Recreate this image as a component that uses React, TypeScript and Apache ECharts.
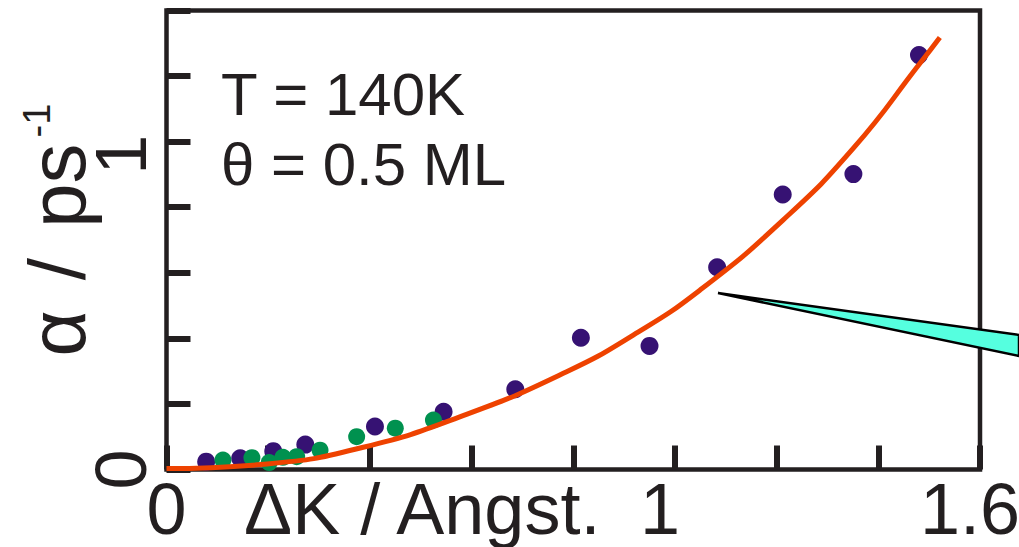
import React, { useEffect, useRef } from "react";
import * as echarts from "echarts";

// ---- data ----
const purplePoints: [number, number][] = [
  [0.078, 0.024], [0.145, 0.034], [0.210, 0.056], [0.273, 0.076],
  [0.410, 0.131], [0.545, 0.176], [0.686, 0.245], [0.815, 0.402],
  [0.950, 0.377], [1.083, 0.617], [1.212, 0.839], [1.351, 0.901],
  [1.480, 1.264],
];
const greenPoints: [number, number][] = [
  [0.111, 0.029], [0.168, 0.036], [0.202, 0.021], [0.229, 0.037],
  [0.256, 0.039], [0.302, 0.059], [0.374, 0.100], [0.450, 0.126],
  [0.525, 0.151],
];
const fitCurve: [number, number][] = [
  [0.0, 0.003], [0.198, 0.017], [0.387, 0.068], [0.590, 0.168],
  [0.787, 0.298], [0.918, 0.410], [1.049, 0.547], [1.212, 0.760],
  [1.351, 0.980], [1.482, 1.239], [1.521, 1.318],
];
const xTickLabels = ["0", "1", "1.6"];
const yTickLabels = ["0", "1"];
const annotations = ["T = 140K", "θ = 0.5 ML"];

const FONT = "'Liberation Sans', Arial, Helvetica, sans-serif";
const INK = "#231f20";
const PURPLE = "#361273";
const GREEN = "#00914f";
const ORANGE = "#ee4200";
const CYAN = "#55ffdf";

const fmtVal = (v: number) => String(Math.round(v * 100) / 100);

export default function App() {
  const ref = useRef<HTMLDivElement>(null);
  useEffect(() => {
    if (!ref.current) return;
    const chart = echarts.init(ref.current, null, { renderer: "svg" });
    const labelBase = { fontSize: 72, fontFamily: FONT, color: INK };
    const xRich: Record<string, any> = {
      base: { ...labelBase },
      one: { ...labelBase, padding: [0, 30, 0, 0] },
      end: { ...labelBase, padding: [0, 20, 0, 0] },
    };
    const xStyleOf: Record<string, string> = { "0": "base", "1": "one", "1.6": "end" };
    const yRich: Record<string, any> = {
      base: { ...labelBase },
      one: { ...labelBase, padding: [0, 26, 0, 0] },
    };
    const yStyleOf: Record<string, string> = { "0": "base", "1": "one" };
    const nameFont = { fontSize: 80, fontFamily: FONT, color: INK };
    chart.setOption({
      animation: false,
      backgroundColor: "#ffffff",
      grid: {
        left: 166.5,
        right: 39,
        top: 10.5,
        bottom: 77.5,
        containLabel: false,
        outerBoundsMode: "none",
        show: true,
        borderColor: INK,
        borderWidth: 4.5,
        backgroundColor: "transparent",
      },
      xAxis: {
        type: "value",
        min: 0,
        max: 1.6,
        interval: 0.2,
        axisLine: { show: false },
        splitLine: { show: false },
        axisTick: { show: true, inside: true, length: 24, lineStyle: { color: INK, width: 6 } },
        axisLabel: {
          margin: 3,
          ...labelBase,
          showMinLabel: true,
          showMaxLabel: true,
          hideOverlap: false,
          formatter: (v: number) => {
            const s = fmtVal(v);
            return xTickLabels.includes(s) ? `{${xStyleOf[s]}|${s}}` : "";
          },
          rich: xRich,
        },
        name: "ΔK / Angst.",
        nameLocation: "middle",
        nameGap: 3,
        nameMoveOverlap: false,
        nameTextStyle: {
          ...labelBase,
          padding: [0, 302, 0, 0],
        },
      },
      yAxis: {
        type: "value",
        min: 0,
        max: 1.4,
        interval: 0.2,
        axisLine: { show: false },
        splitLine: { show: false },
        axisTick: { show: true, inside: true, length: 24, lineStyle: { color: INK, width: 6 } },
        axisLabel: {
          margin: 10,
          rotate: 90,
          ...labelBase,
          showMinLabel: true,
          showMaxLabel: true,
          hideOverlap: false,
          formatter: (v: number) => {
            const s = fmtVal(v);
            return yTickLabels.includes(s) ? `{${yStyleOf[s]}|${s}}` : "";
          },
          rich: yRich,
        },
        name: "{a|α}{b|/}{a|ps}{s|-1}",
        nameLocation: "middle",
        nameRotate: 90,
        nameGap: 69,
        nameMoveOverlap: false,
        nameTextStyle: {
          padding: [0, 0, 0, 20],
          rich: {
            a: { ...nameFont },
            b: { ...nameFont, padding: [0, 30, 0, 30] },
            s: { fontSize: 38, lineHeight: 28, fontFamily: FONT, color: INK, verticalAlign: "top", padding: [0, 0, 0, 6] },
          },
        },
      },
      graphic: [
        {
          type: "text",
          x: 221,
          y: 94.5,
          z: 50,
          style: {
            text: annotations[0],
            font: `60px ${FONT}`,
            fill: INK,
            textAlign: "left",
            textVerticalAlign: "middle",
          },
        },
        {
          type: "text",
          x: 221,
          y: 164,
          z: 50,
          style: {
            text: annotations[1],
            font: `60px ${FONT}`,
            fill: INK,
            textAlign: "left",
            textVerticalAlign: "middle",
          },
        },
        {
          type: "polygon",
          z: 100,
          shape: { points: [[718, 293], [1019, 335], [1019, 356]] },
          style: { fill: CYAN, stroke: "#000000", lineWidth: 2.5, lineJoin: "miter" },
        },
      ],
      series: [
        {
          type: "scatter",
          data: purplePoints,
          symbol: "circle",
          symbolSize: 18,
          itemStyle: { color: PURPLE, opacity: 1 },
          z: 2,
        },
        {
          type: "scatter",
          data: greenPoints,
          symbol: "circle",
          symbolSize: 17,
          itemStyle: { color: GREEN, opacity: 1 },
          z: 2,
        },
        {
          type: "line",
          data: fitCurve,
          smooth: 0.5,
          showSymbol: false,
          symbol: "none",
          lineStyle: { color: ORANGE, width: 5 },
          z: 3,
        },
      ],
    });
    return () => chart.dispose();
  }, []);
  return (
    <div
      ref={ref}
      style={{ position: "fixed", left: 0, top: 0, width: 1019, height: 547, background: "#fff" }}
    />
  );
}
